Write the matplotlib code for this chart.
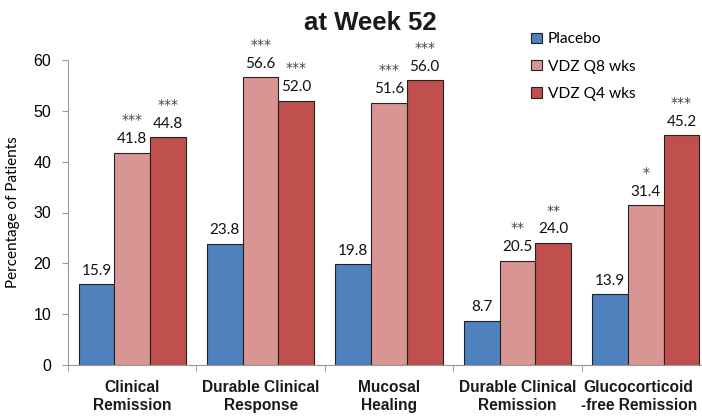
import numpy as np
import matplotlib.pyplot as plt
import matplotlib.transforms as mtransforms

# Data
categories = ["Clinical\nRemission", "Durable Clinical\nResponse", "Mucosal\nHealing",
              "Durable Clinical\nRemission", "Glucocorticoid\n-free Remission"]
series_names = ["Placebo", "VDZ Q8 wks", "VDZ Q4 wks"]
placebo = [15.9, 23.8, 19.8, 8.7, 13.9]
vdz_q8 = [41.8, 56.6, 51.6, 20.5, 31.4]
vdz_q4 = [44.8, 52.0, 56.0, 24.0, 45.2]
stars_q8 = ["***", "***", "***", "**", "*"]
stars_q4 = ["***", "***", "***", "**", "***"]
colors = ["#4F81BD", "#D99594", "#C0504D"]

arial = ["Liberation Sans", "DejaVu Sans"]
num_font = ["Lato", "DejaVu Sans"]

fig = plt.figure(figsize=(7.02, 4.17), dpi=100)
ax = fig.add_axes([68 / 702, 1 - 365 / 417, 642 / 702, 305 / 417])

x = np.arange(len(categories))
w = 0.278
all_vals = [placebo, vdz_q8, vdz_q4]
all_stars = [None, stars_q8, stars_q4]
for i, (vals, name, c) in enumerate(zip(all_vals, series_names, colors)):
    pos = x + (i - 1) * w
    ax.bar(pos, vals, w, color=c, edgecolor="#222222", linewidth=0.8, label=name)
    for j, v in enumerate(vals):
        ax.text(pos[j], v + 1.3, f"{v:.1f}", ha="center", va="bottom",
                fontsize=11, family=num_font, color="#111111")
        if all_stars[i] is not None:
            ax.text(pos[j], v + 5.0, all_stars[i][j], ha="center", va="bottom",
                    fontsize=10, color="#444444")

ax.set_xlim(-0.5, 4.5)
ax.set_ylim(0, 60)
ax.set_yticks(range(0, 61, 10))
ax.set_yticklabels([str(t) for t in range(0, 61, 10)], family=arial, fontsize=11.5)
ax.set_xticks(x)
ax.set_xticklabels(categories, family=arial, fontsize=11.2, fontweight="bold",
                   linespacing=1.2, color="#1a1a1a")
ax.set_xticks(np.arange(-0.5, 5, 1), minor=True)
ax.tick_params(axis="x", which="major", length=0, pad=11)
ax.tick_params(axis="x", which="minor", length=5, color="#999999")
ax.tick_params(axis="y", length=4, color="#999999", pad=8)

# the last category label sits a little left of its slot, as in the original
last = ax.get_xticklabels()[-1]
last.set_transform(last.get_transform() + mtransforms.ScaledTranslation(-7 / 100, 0, fig.dpi_scale_trans))

for s in ["top", "right"]:
    ax.spines[s].set_visible(False)
for s in ["left", "bottom"]:
    ax.spines[s].set_color("#999999")

ax.set_ylabel("Percentage of Patients", fontsize=11, family=num_font, labelpad=10)

fig.text(370 / 702, 1 - 23 / 417, "at Week 52", ha="center", va="center",
         fontsize=18.5, fontweight="bold", family=arial, color="#1a1a1a")

leg = ax.legend(loc="upper left", frameon=False, handlelength=0.65, handleheight=0.65,
                labelspacing=0.85, handletextpad=0.4, borderpad=0.3,
                prop={"family": num_font, "size": 11.2})
leg.set_bbox_to_anchor((519 / 702, 1 - 20 / 417), transform=fig.transFigure)

fig.savefig("out.png", dpi=100)
